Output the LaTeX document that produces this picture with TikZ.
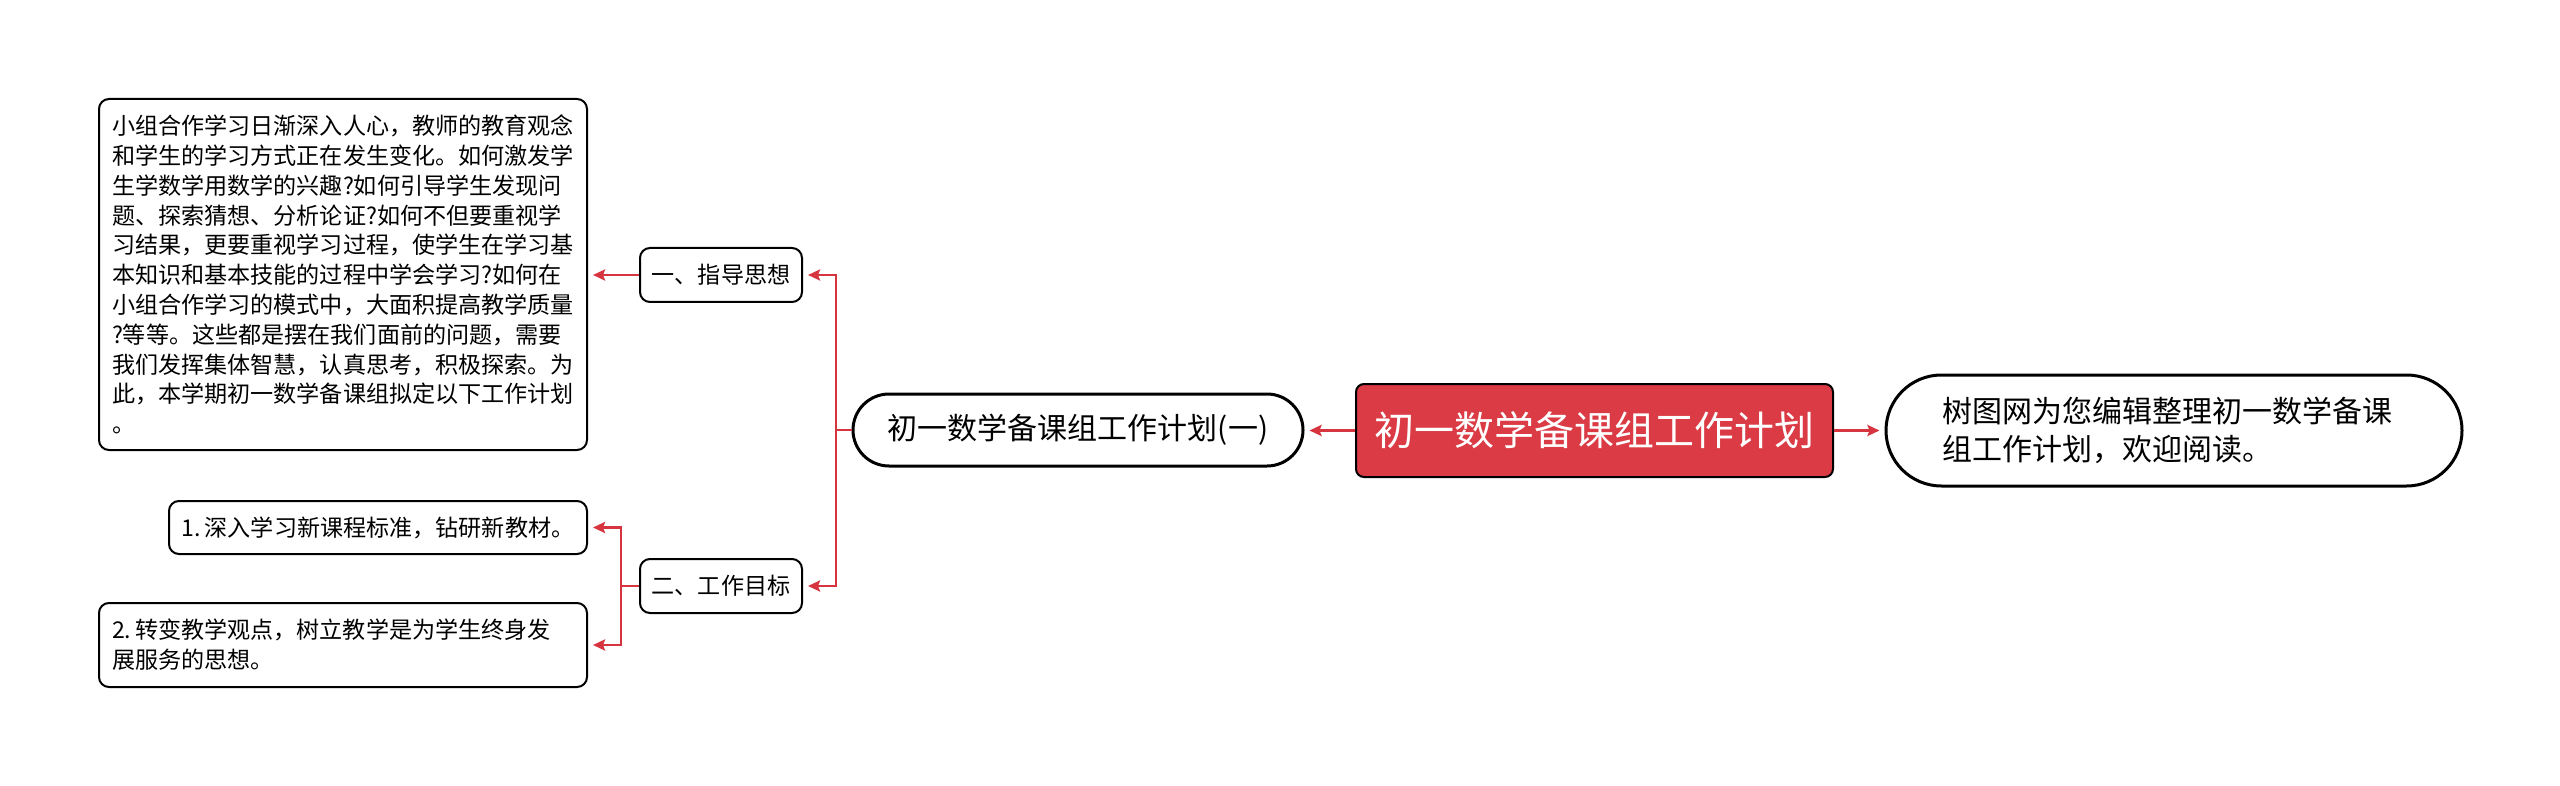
\documentclass[tikz,border=0pt]{standalone}
\usepackage{fontspec}
\setmainfont{Noto Sans CJK SC}
\usetikzlibrary{arrows.meta}
\definecolor{mred}{RGB}{218,59,68}
\definecolor{lred}{RGB}{214,52,62}
\begin{document}
\begin{tikzpicture}[x=0.5pt,y=-0.5pt,
  conn/.style={draw=lred,line width=1.4pt},
  arr/.style={conn,-{Stealth[length=6pt,width=5.5pt,inset=1pt]},shorten >=2.5pt},
  boxn/.style={draw=black,line width=1pt,rounded corners=5pt,fill=white,inner sep=0pt,
    font=\fontsize{11.55pt}{14.9pt}\selectfont},
  pill/.style={draw=black,line width=1.5pt,fill=white,inner sep=0pt,
    font=\fontsize{15pt}{19pt}\selectfont},
  rootbox/.style={draw=black,line width=1pt,fill=mred,rounded corners=4pt,text=white,
    inner sep=0pt,font=\fontsize{20pt}{24pt}\selectfont}]
\useasboundingbox (0,0) rectangle (2560,786);
\fill[white] (0,0) rectangle (2560,786);

\node[boxn, minimum width=244pt, minimum height=175.5pt, text width=231pt, align=left] (big) at (343,274.5)
 {小组合作学习日渐深入人心，教师的教育观念\\
  和学生的学习方式正在发生变化。如何激发学\\
  生学数学用数学的兴趣?如何引导学生发现问\\
  题、探索猜想、分析论证?如何不但要重视学\\
  习结果，更要重视学习过程，使学生在学习基\\
  本知识和基本技能的过程中学会学习?如何在\\
  小组合作学习的模式中，大面积提高教学质量\\
  ?等等。这些都是摆在我们面前的问题，需要\\
  我们发挥集体智慧，认真思考，积极探索。为\\
  此，本学期初一数学备课组拟定以下工作计划\\
  。};

\node[boxn, minimum width=81pt, minimum height=27pt] (g1) at (721,275) {一、指导思想};
\node[boxn, minimum width=81pt, minimum height=27pt] (g2) at (721,586) {二、工作目标};
\node[boxn, minimum width=209pt, minimum height=26.5pt] (t1) at (378,527.5) {1.\,深入学习新课程标准，钻研新教材。};
\node[boxn, minimum width=244pt, minimum height=42pt, text width=231pt, align=left] (t2) at (343,645)
 {2.\,转变教学观点，树立教学是为学生终身发\\展服务的思想。};

\node[pill, minimum width=225pt, minimum height=36pt, rounded corners=18pt] (p1) at (1078,430) {初一数学备课组工作计划(一)};
\node[rootbox, minimum width=238.5pt, minimum height=46.5pt] (root) at (1594.5,430.5) {初一数学备课组工作计划};
\node[pill, minimum width=288pt, minimum height=55.5pt, rounded corners=27.7pt, text width=232pt, align=left] (p2) at (2174,430.5)
 {树图网为您编辑整理初一数学备课\\组工作计划，欢迎阅读。};

\coordinate (j1) at (836,430);
\coordinate (j2) at (621,586);

\draw[arr] (root.west) -- (root.west -| p1.east);
\draw[arr] (root.east) -- (root.east -| p2.west);
\draw[conn] (p1.west) -- (j1);
\draw[arr] (j1) |- (g1.east);
\draw[arr] (j1) |- (g2.east);
\draw[arr] (g1.west) -- (g1.west -| big.east);
\draw[conn] (g2.west) -- (j2);
\draw[arr] (j2) |- (t1.east);
\draw[arr] (j2) |- (t2.east);
\end{tikzpicture}
\end{document}
